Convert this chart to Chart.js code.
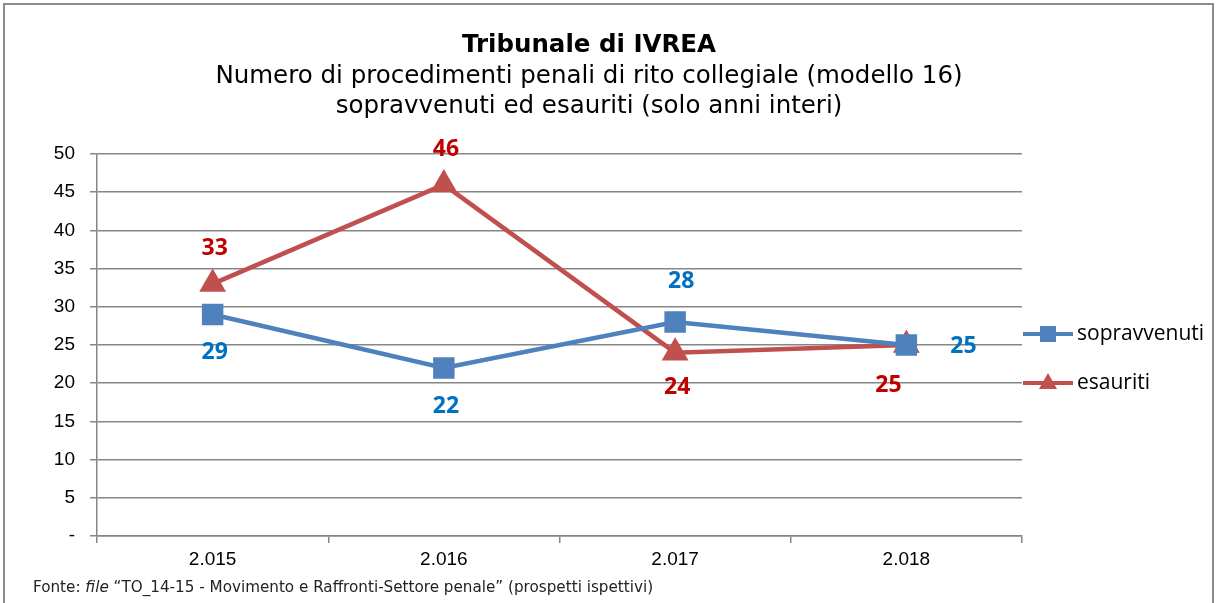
<!DOCTYPE html>
<html>
<head>
<meta charset="utf-8">
<script src="https://cdn.jsdelivr.net/npm/chart.js@4"></script>
<style>
  html, body { margin: 0; padding: 0; background: #fff; }
  #wrap { position: relative; width: 1216px; height: 603px; overflow: hidden; }
  #frame { position: absolute; left: 3px; top: 3px; width: 1211px; height: 620px; border: 2px solid #8c8c8c; box-sizing: border-box; }
  #myChart { position: absolute; left: 0; top: 0; }
  #title { position: absolute; left: 0; top: 29px; width: 1178px; text-align: center; font-family: "DejaVu Sans", Verdana, sans-serif; font-size: 24.5px; line-height: 30.5px; color: #000; }
  #title b { font-size: 24.5px; }
  #footer { position: absolute; left: 33px; top: 578px; font-family: "DejaVu Sans", Verdana, sans-serif; font-size: 15.2px; color: #222; }
</style>
</head>
<body>
<div id="wrap">
  <div id="frame"></div>
  <canvas id="myChart" width="1216" height="603"></canvas>
  <div id="title">
    <b>Tribunale di IVREA</b><br>
    Numero di procedimenti penali di rito collegiale (modello 16)<br>
    sopravvenuti ed esauriti (solo anni interi)
  </div>
  <div id="footer">Fonte: <i>file</i> “TO_14-15 - Movimento e Raffronti-Settore penale” (prospetti ispettivi)</div>
</div>
<script>
// Data
var years = ['2.015', '2.016', '2.017', '2.018'];
var sopravvenuti = [29, 22, 28, 25];
var esauriti = [33, 46, 24, 25];

// where each value label sits relative to its point
var labelOffsetsSop = [[2, 38], [2, 39], [6, -41], [57, 1]];
var labelOffsetsEsa = [[2, -35], [2, -35], [2, 35], [-18, 40]];

var blue = '#4F81BD';
var red = '#C0504D';

// value labels next to the points
var valueLabels = {
    id: 'valueLabels',
    afterDatasetsDraw: function(chart) {
        var ctx = chart.ctx;
        var sets = [
            { idx: 0, offs: labelOffsetsSop, color: '#0070C0' },
            { idx: 1, offs: labelOffsetsEsa, color: '#C00000' }
        ];
        ctx.save();
        ctx.font = 'bold 23px "Open Sans", sans-serif';
        ctx.textAlign = 'center';
        ctx.textBaseline = 'middle';
        sets.forEach(function(s) {
            var meta = chart.getDatasetMeta(s.idx);
            var values = chart.data.datasets[s.idx].data;
            ctx.fillStyle = s.color;
            meta.data.forEach(function(pt, i) {
                ctx.fillText(values[i], pt.x + s.offs[i][0], pt.y + s.offs[i][1]);
            });
        });
        ctx.restore();
    }
};

// legend on the right: line with marker in the middle
var sideLegend = {
    id: 'sideLegend',
    afterDraw: function(chart) {
        var ctx = chart.ctx;
        var items = [
            { text: 'sopravvenuti', color: blue, shape: 'rect', y: 334 },
            { text: 'esauriti', color: red, shape: 'triangle', y: 383 }
        ];
        ctx.save();
        items.forEach(function(it) {
            ctx.strokeStyle = it.color;
            ctx.fillStyle = it.color;
            ctx.lineWidth = 4;
            ctx.beginPath();
            ctx.moveTo(1023, it.y);
            ctx.lineTo(1073, it.y);
            ctx.stroke();
            var cx = 1048;
            ctx.beginPath();
            if (it.shape === 'rect') {
                ctx.rect(cx - 8, it.y - 8, 16, 16);
            } else {
                ctx.moveTo(cx, it.y - 10);
                ctx.lineTo(cx + 9, it.y + 6);
                ctx.lineTo(cx - 9, it.y + 6);
                ctx.closePath();
            }
            ctx.fill();
            ctx.fillStyle = '#000';
            ctx.font = '21px "Open Sans", sans-serif';
            ctx.textAlign = 'left';
            ctx.textBaseline = 'middle';
            ctx.fillText(it.text, 1077, it.y);
        });
        ctx.restore();
    }
};

var ctx = document.getElementById('myChart').getContext('2d');
var myChart = new Chart(ctx, {
    type: 'line',
    data: {
        labels: years,
        datasets: [{
            label: 'sopravvenuti',
            data: sopravvenuti,
            borderColor: blue,
            backgroundColor: blue,
            borderWidth: 4.5,
            pointStyle: 'rect',
            pointRadius: 12,
            pointHoverRadius: 12,
            tension: 0
        }, {
            label: 'esauriti',
            data: esauriti,
            borderColor: red,
            backgroundColor: red,
            borderWidth: 4.5,
            pointStyle: 'triangle',
            pointRadius: 11,
            pointHoverRadius: 11,
            tension: 0
        }]
    },
    options: {
        responsive: false,
        animation: false,
        layout: { padding: { left: 0, top: 154, right: 194, bottom: 0 } },
        plugins: {
            legend: { display: false },
            title: { display: false },
            tooltip: { enabled: false }
        },
        scales: {
            x: {
                offset: true,
                afterFit: function(scale) { scale.height = 67; },
                grid: {
                    offset: true,
                    drawOnChartArea: false,
                    drawTicks: true,
                    tickLength: 7,
                    color: '#868686',
                    lineWidth: 1.5
                },
                border: { display: true, color: '#868686', width: 1.5 },
                ticks: {
                    color: '#000',
                    padding: 5,
                    font: { family: '"Liberation Sans", Arial, sans-serif', size: 19 }
                }
            },
            y: {
                min: 0,
                max: 50,
                afterFit: function(scale) { scale.width = 97; },
                grid: {
                    color: '#868686',
                    lineWidth: 1.5,
                    tickLength: 7
                },
                border: { display: true, color: '#868686', width: 1.5 },
                ticks: {
                    stepSize: 5,
                    color: '#000',
                    padding: 15,
                    font: { family: '"Liberation Sans", Arial, sans-serif', size: 19 },
                    callback: function(v) { return v === 0 ? '-' : v; }
                }
            }
        }
    },
    plugins: [valueLabels, sideLegend]
});
</script>
</body>
</html>
